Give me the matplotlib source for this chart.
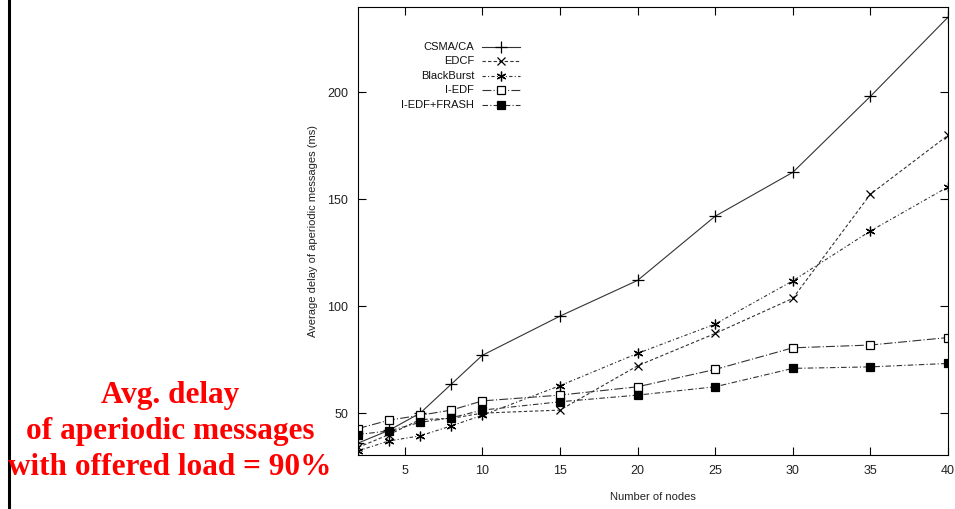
import matplotlib.pyplot as plt
from matplotlib.lines import Line2D

# number of nodes
nodes = [2, 4, 6, 8, 10, 15, 20, 25, 30, 35, 40]

# average delay of aperiodic messages (ms)
csma_ca = [36.0, 42.0, 50.0, 63.5, 77.0, 95.3, 112.0, 142.0, 162.5, 198.0, 235.0]
edcf = [34.0, 40.0, 47.0, 47.5, 50.0, 51.4, 72.1, 87.2, 103.6, 152.3, 179.8]
blackburst = [32.4, 37.0, 39.4, 44.0, 49.0, 62.8, 77.9, 91.6, 111.8, 135.1, 155.7]
iedf = [42.8, 46.7, 49.0, 51.4, 55.7, 58.4, 62.3, 70.4, 80.5, 81.8, 85.3]
iedf_frash = [40.0, 41.7, 45.7, 47.8, 51.4, 55.3, 58.4, 62.3, 70.9, 71.6, 73.2]

labels = ['CSMA/CA', 'EDCF', 'BlackBurst', 'I-EDF', 'I-EDF+FRASH']
xticks = [5, 10, 15, 20, 25, 30, 35, 40]
yticks = [50, 100, 150, 200]

styles = [
    dict(linestyle='-', marker='+', markersize=8, markerfacecolor='none'),
    dict(linestyle=(0, (3, 2)), marker='x', markersize=5.5, markerfacecolor='none'),
    dict(linestyle=(0, (3, 2, 1, 2)), marker=(6, 2, 0), markersize=7, markerfacecolor='none'),
    dict(linestyle=(0, (8, 2, 1, 2)), marker='s', markersize=5.5, markerfacecolor='white'),
    dict(linestyle=(0, (5, 2, 1, 2)), marker='s', markersize=5.5, markerfacecolor='black'),
]
series = [csma_ca, edcf, blackburst, iedf, iedf_frash]

plt.rcParams['font.family'] = ['Liberation Sans', 'DejaVu Sans']

fig = plt.figure(figsize=(9.55, 5.09), dpi=100)
ax = fig.add_axes([0.375, 0.106, 0.6177, 0.880])

for ys, lab, st in zip(series, labels, styles):
    ax.plot(nodes, ys, color='#333333', linewidth=0.8,
            markeredgecolor='black', markeredgewidth=0.9, label=lab, **st)

ax.set_xlim(2, 40)
ax.set_ylim(30.4, 239.7)
ax.set_xticks(xticks)
ax.set_yticks(yticks)
ax.tick_params(direction='in', length=6, width=0.8, top=True, right=True,
               labelsize=9, labelcolor='#222222', pad=7)
for s in ax.spines.values():
    s.set_linewidth(0.8)

ax.set_xlabel('Number of nodes', fontsize=8, color='#222222', labelpad=11)
ax.set_ylabel('Average delay of aperiodic messages (ms)', fontsize=8,
              color='#222222', labelpad=7)

# gnuplot-style key: label right aligned, sample line on the right
key_y = [0.912, 0.879, 0.847, 0.814, 0.782]
for ky, lab, st in zip(key_y, labels, styles):
    ax.text(0.197, ky, lab, transform=ax.transAxes, ha='right', va='center',
            fontsize=8, color='#111111')
    ax.add_line(Line2D([0.21, 0.275], [ky, ky], transform=ax.transAxes,
                       color='#333333', linewidth=0.8,
                       linestyle=st['linestyle']))
    ax.add_line(Line2D([0.2425], [ky], transform=ax.transAxes, linestyle='none',
                       marker=st['marker'], markersize=st['markersize'],
                       markerfacecolor=st['markerfacecolor'],
                       markeredgecolor='black', markeredgewidth=0.9))

# red caption on the left
fig.text(0.178, 0.152, 'Avg. delay\nof aperiodic messages\nwith offered load = 90%',
         ha='center', va='center', color='red', fontsize=22.5, fontweight='bold',
         family=['Liberation Serif', 'DejaVu Serif'], linespacing=1.33)

# black slide border on the left
fig.add_artist(Line2D([0.0094, 0.0094], [0, 1], transform=fig.transFigure,
                      color='black', linewidth=2.2))

fig.savefig('out.png', dpi=100)
